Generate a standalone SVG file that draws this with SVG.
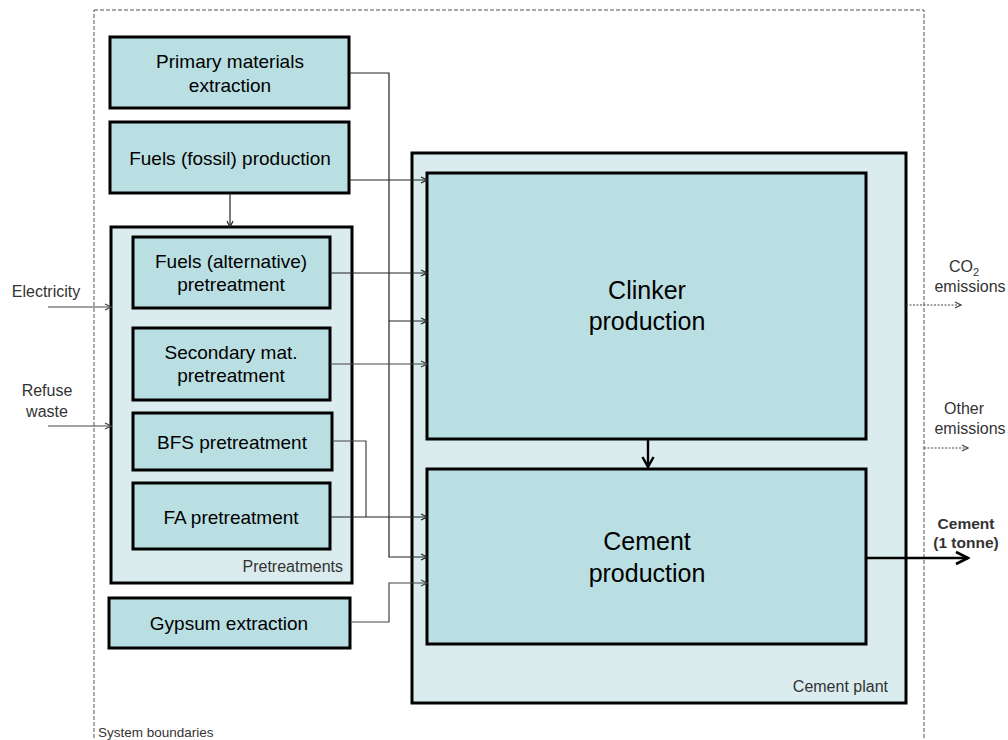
<svg xmlns="http://www.w3.org/2000/svg" width="1008" height="740" viewBox="0 0 1008 740">
  <defs>
    <marker id="arr" markerUnits="userSpaceOnUse" markerWidth="8" markerHeight="8" refX="7" refY="4" orient="auto">
      <path d="M1,1 L7,4 L1,7" fill="none" stroke="#222" stroke-width="1.2"/>
    </marker>
    <marker id="arrGrey" markerUnits="userSpaceOnUse" markerWidth="8" markerHeight="8" refX="7" refY="4" orient="auto">
      <path d="M1,1 L7,4 L1,7" fill="none" stroke="#444" stroke-width="1.2"/>
    </marker>
    <marker id="arrBold" markerUnits="userSpaceOnUse" markerWidth="16" markerHeight="16" refX="14" refY="8" orient="auto">
      <path d="M2,2 L14,8 L2,14" fill="none" stroke="#000" stroke-width="2.6"/>
    </marker>
    <marker id="arrDown" markerUnits="userSpaceOnUse" markerWidth="14" markerHeight="14" refX="12" refY="7" orient="auto">
      <path d="M2,1.5 L12,7 L2,12.5" fill="none" stroke="#000" stroke-width="2.4"/>
    </marker>
  </defs>
  <style>
    .box { fill: #badfe2; stroke: #000; stroke-width: 3; }
    .container { fill: #daeced; stroke: #000; stroke-width: 3; }
    .title { font-family: "Liberation Sans", Arial, sans-serif; font-size: 19px; fill: #000; text-anchor: middle; }
    .big { font-family: "Liberation Sans", Arial, sans-serif; font-size: 25px; fill: #000; text-anchor: middle; }
    .label { font-family: "Liberation Sans", Arial, sans-serif; font-size: 16px; fill: #333; }
    .flow { fill: none; stroke: #222; stroke-width: 1.2; }
    .flowGrey { fill: none; stroke: #444; stroke-width: 1.2; }
    .emit { fill: none; stroke: #444; stroke-width: 1; stroke-dasharray: 2 1.5; }
  </style>

  <rect width="1008" height="740" fill="#fff"/>

  <!-- system boundary -->
  <g id="system-boundary">
    <rect x="94" y="10" width="830" height="740" fill="none" stroke="#555" stroke-width="1" stroke-dasharray="4 2"/>
    <text class="label" x="98" y="737" style="font-size:13.5px" fill="#222">System boundaries</text>
  </g>

  <!-- containers -->
  <g id="pretreatments">
    <rect class="container" x="111" y="227" width="241" height="356"/>
    <text class="label" x="343" y="572" text-anchor="end" fill="#444">Pretreatments</text>
  </g>
  <g id="cement-plant">
    <rect class="container" x="412" y="153" width="494" height="550"/>
    <text class="label" x="888" y="692" text-anchor="end" fill="#333">Cement plant</text>
  </g>

  <!-- process nodes -->
  <g id="primary-materials">
    <rect class="box" x="110" y="37" width="239" height="71"/>
    <text class="title" x="230" y="68">Primary materials</text>
    <text class="title" x="230" y="92">extraction</text>
  </g>
  <g id="fuels-fossil">
    <rect class="box" x="110" y="122" width="239" height="71"/>
    <text class="title" x="230" y="165">Fuels (fossil) production</text>
  </g>
  <g id="fuels-alternative">
    <rect class="box" x="133" y="237" width="197" height="71"/>
    <text class="title" x="231" y="268">Fuels (alternative)</text>
    <text class="title" x="231" y="291">pretreatment</text>
  </g>
  <g id="secondary-materials">
    <rect class="box" x="133" y="328" width="197" height="72"/>
    <text class="title" x="231" y="359">Secondary mat.</text>
    <text class="title" x="231" y="382">pretreatment</text>
  </g>
  <g id="bfs-pretreatment">
    <rect class="box" x="133" y="413" width="199" height="57"/>
    <text class="title" x="232" y="449">BFS pretreatment</text>
  </g>
  <g id="fa-pretreatment">
    <rect class="box" x="133" y="483" width="197" height="66"/>
    <text class="title" x="231" y="524">FA pretreatment</text>
  </g>
  <g id="gypsum-extraction">
    <rect class="box" x="109" y="598" width="241" height="50"/>
    <text class="title" x="229" y="630">Gypsum extraction</text>
  </g>
  <g id="clinker-production">
    <rect class="box" x="427" y="173" width="439" height="266"/>
    <text class="big" x="647" y="299">Clinker</text>
    <text class="big" x="647" y="330">production</text>
  </g>
  <g id="cement-production">
    <rect class="box" x="427" y="469" width="439" height="175"/>
    <text class="big" x="647" y="550">Cement</text>
    <text class="big" x="647" y="582">production</text>
  </g>

  <!-- external inputs and outputs -->
  <g id="electricity">
    <text class="label" x="46" y="297" text-anchor="middle">Electricity</text>
  </g>
  <g id="refuse-waste">
    <text class="label" x="47" y="396" text-anchor="middle">Refuse</text>
    <text class="label" x="47" y="417" text-anchor="middle">waste</text>
  </g>
  <g id="co2-emissions">
    <text class="label" x="964" y="272" text-anchor="middle">CO<tspan dy="4" style="font-size:11px">2</tspan></text>
    <text class="label" x="970" y="292" text-anchor="middle">emissions</text>
  </g>
  <g id="other-emissions">
    <text class="label" x="964" y="414" text-anchor="middle">Other</text>
    <text class="label" x="970" y="434" text-anchor="middle">emissions</text>
  </g>
  <g id="cement-output">
    <text class="label" x="966" y="529" text-anchor="middle" style="font-size:15.5px;font-weight:bold" fill="#000">Cement</text>
    <text class="label" x="966" y="548" text-anchor="middle" style="font-size:15.5px;font-weight:bold" fill="#000">(1 tonne)</text>
  </g>

  <!-- connectors -->
  <g id="connectors">
    <!-- primary materials: to clinker and cement -->
    <polyline class="flow" points="349,73 389,73 389,557 427,557" marker-end="url(#arr)"/>
    <line class="flow" x1="389" y1="321" x2="427" y2="321" marker-end="url(#arr)"/>
    <!-- fossil fuels -->
    <line class="flow" x1="349" y1="180" x2="427" y2="180" marker-end="url(#arr)"/>
    <line class="flow" x1="230" y1="193" x2="230" y2="227" marker-end="url(#arr)"/>
    <!-- pretreatments -->
    <line class="flow" x1="330" y1="273" x2="427" y2="273" marker-end="url(#arr)"/>
    <line class="flowGrey" x1="330" y1="364" x2="427" y2="364" marker-end="url(#arrGrey)"/>
    <polyline class="flowGrey" points="332,441 366,441 366,517"/>
    <line class="flow" x1="330" y1="517" x2="427" y2="517" marker-end="url(#arr)"/>
    <!-- gypsum -->
    <polyline class="flowGrey" points="350,622 389,622 389,583 427,583" marker-end="url(#arrGrey)"/>
    <!-- electricity and refuse into pretreatments -->
    <line class="flowGrey" x1="48" y1="307" x2="111" y2="307" marker-end="url(#arrGrey)"/>
    <line class="flowGrey" x1="48" y1="426" x2="111" y2="426" marker-end="url(#arrGrey)"/>
    <!-- clinker to cement -->
    <line x1="648" y1="439" x2="648" y2="467" stroke="#000" stroke-width="2.4" marker-end="url(#arrDown)"/>
    <!-- emissions -->
    <line class="emit" x1="906" y1="305" x2="961" y2="305" marker-end="url(#arrGrey)"/>
    <line class="emit" x1="924" y1="448" x2="968" y2="448" marker-end="url(#arrGrey)"/>
    <!-- cement product -->
    <line x1="866" y1="558" x2="968" y2="558" stroke="#000" stroke-width="2.6" marker-end="url(#arrBold)"/>
  </g>
</svg>
